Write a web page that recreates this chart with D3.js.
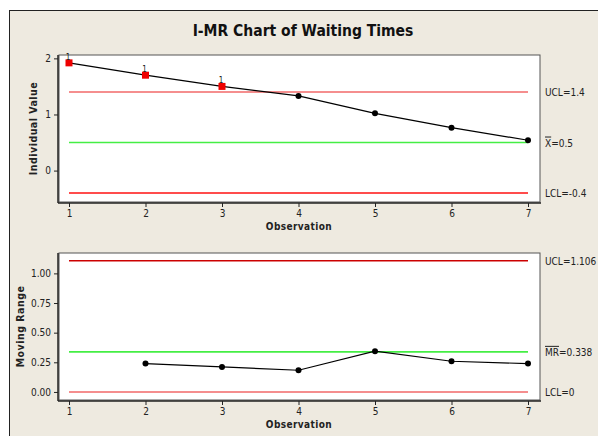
<!DOCTYPE html>
<html>
<head>
<meta charset="utf-8">
<script src="https://cdn.jsdelivr.net/npm/d3@7"></script>
<style>
  body { margin: 0; background: #fff; }
  text { font-family: "DejaVu Sans Condensed", "DejaVu Sans", sans-serif; fill: #222; }
</style>
</head>
<body>
<div id="chart"></div>
<script>
var observations = [1, 2, 3, 4, 5, 6, 7]
var individualValues = [1.92, 1.70, 1.50, 1.33, 1.02, 0.765, 0.54]
var movingRanges = [null, 0.239, 0.211, 0.183, 0.344, 0.259, 0.239]
var outOfControl = [1, 2, 3]
var iLimits = {ucl: 1.4, center: 0.5, lcl: -0.4}
var mrLimits = {ucl: 1.106, center: 0.338, lcl: 0}
var iTicks = [0, 1, 2]
var mrTicks = [0, 0.25, 0.5, 0.75, 1.0]

var width = 598, height = 436

var svg = d3.select("#chart").append("svg")
  .attr("width", width)
  .attr("height", height)

// beige frame
svg.append("rect")
  .attr("x", 9.5).attr("y", 10.5)
  .attr("width", 600).attr("height", 440)
  .attr("fill", "#eeeae0")
  .attr("stroke", "#222")

svg.append("text")
  .attr("x", 303).attr("y", 36)
  .attr("text-anchor", "middle")
  .style("font-size", "15.5px")
  .style("font-weight", "bold")
  .style("fill", "#111")
  .text("I-MR Chart of Waiting Times")

var xScale = d3.scaleLinear().domain([1, 7]).range([69, 528])

function drawPanel(cfg) {
  var g = svg.append("g")
  var y = cfg.y

  g.append("rect")
    .attr("x", 59).attr("y", cfg.top)
    .attr("width", 540 - 59).attr("height", cfg.bottom - cfg.top)
    .attr("fill", "#fff")
    .attr("stroke", "#555")
    .attr("stroke-width", 1)

  // control limits
  var limitLines = [
    {v: cfg.limits.ucl, color: cfg.uclColor},
    {v: cfg.limits.center, color: "#44ee44"},
    {v: cfg.limits.lcl, color: cfg.lclColor}
  ]
  g.selectAll(".limit").data(limitLines).enter().append("line")
    .attr("class", "limit")
    .attr("x1", xScale(1)).attr("x2", xScale(7))
    .attr("y1", d => y(d.v)).attr("y2", d => y(d.v))
    .attr("stroke", d => d.color)
    .attr("stroke-width", 1.6)

  var pts = observations.map((o, i) => ({o: o, v: cfg.values[i]})).filter(d => d.v != null)

  g.append("path")
    .datum(pts)
    .attr("fill", "none")
    .attr("stroke", "#000")
    .attr("stroke-width", 1.2)
    .attr("d", d3.line().x(d => xScale(d.o)).y(d => y(d.v)))

  var flagged = cfg.flagged || []
  g.selectAll(".pt").data(pts.filter(d => flagged.indexOf(d.o) < 0)).enter().append("circle")
    .attr("cx", d => xScale(d.o)).attr("cy", d => y(d.v))
    .attr("r", 3).attr("fill", "#000")

  var bad = pts.filter(d => flagged.indexOf(d.o) >= 0)
  g.selectAll(".bad").data(bad).enter().append("rect")
    .attr("x", d => xScale(d.o) - 3.5).attr("y", d => y(d.v) - 3.5)
    .attr("width", 7).attr("height", 7).attr("fill", "#ee0000")
  g.selectAll(".badlbl").data(bad).enter().append("text")
    .attr("x", d => xScale(d.o) - 1).attr("y", d => y(d.v) - 3)
    .attr("text-anchor", "middle")
    .style("font-size", "8px")
    .text("1")

  // axes
  var xAxis = d3.axisBottom(xScale).tickValues(observations).tickSize(4).tickSizeOuter(0).tickFormat(d3.format("d"))
  var xg = g.append("g").attr("transform", "translate(0," + (cfg.bottom + 1) + ")").call(xAxis)
  var yAxis = d3.axisLeft(y).tickValues(cfg.ticks).tickSize(4).tickFormat(cfg.format)
  var yg = g.append("g").attr("transform", "translate(58,0)").call(yAxis)
  yg.select(".domain").attr("d", "M0," + cfg.top + "V" + (cfg.bottom + 1))
  xg.select(".domain").attr("d", "M58,0H" + 541)
  ;[xg, yg].forEach(a => {
    a.selectAll(".domain").attr("stroke", "#222").attr("stroke-width", 1.5)
    a.selectAll(".tick line").attr("stroke", "#222")
    a.selectAll(".tick text").style("font-size", "10px").style("font-family", '"DejaVu Sans Condensed", "DejaVu Sans", sans-serif').attr("fill", "#222")
  })

  g.append("text")
    .attr("x", 299).attr("y", cfg.bottom + 28)
    .attr("text-anchor", "middle")
    .style("font-size", "10px").style("font-weight", "bold").style("letter-spacing", "0.4px")
    .text("Observation")

  g.append("text")
    .attr("transform", "translate(" + cfg.yLabelX + "," + ((cfg.top + cfg.bottom) / 2) + ") rotate(-90)")
    .attr("text-anchor", "middle")
    .style("font-size", "10.5px").style("font-weight", "bold").style("letter-spacing", "0.5px")
    .text(cfg.yLabel)

  // limit labels
  var lx = 545
  g.append("text").attr("x", lx).attr("y", y(cfg.limits.ucl) + 4).style("font-size", "10px").text("UCL=" + cfg.limits.ucl)
  var c = g.append("text").attr("x", lx).attr("y", y(cfg.limits.center) + 4).style("font-size", "10px")
  c.append("tspan").style("text-decoration", "overline").text(cfg.centerSym)
  c.append("tspan").text("=" + cfg.limits.center)
  g.append("text").attr("x", lx).attr("y", y(cfg.limits.lcl) + 4).style("font-size", "10px").text("LCL=" + cfg.limits.lcl)
}

drawPanel({
  top: 55, bottom: 202,
  y: d3.scaleLinear().domain([-0.56, 2.06]).range([202, 55]),
  values: individualValues,
  limits: iLimits,
  ticks: iTicks,
  format: d3.format("d"),
  flagged: outOfControl,
  uclColor: "#f26868", lclColor: "#ff1010",
  yLabel: "Individual Value", yLabelX: 37,
  centerSym: "X"
})

drawPanel({
  top: 253, bottom: 400,
  y: d3.scaleLinear().domain([-0.068, 1.172]).range([400, 253]),
  values: movingRanges,
  limits: mrLimits,
  ticks: mrTicks,
  format: d3.format(".2f"),
  flagged: [],
  uclColor: "#cc0000", lclColor: "#f26868",
  yLabel: "Moving Range", yLabelX: 24,
  centerSym: "MR"
})
</script>
</body>
</html>
